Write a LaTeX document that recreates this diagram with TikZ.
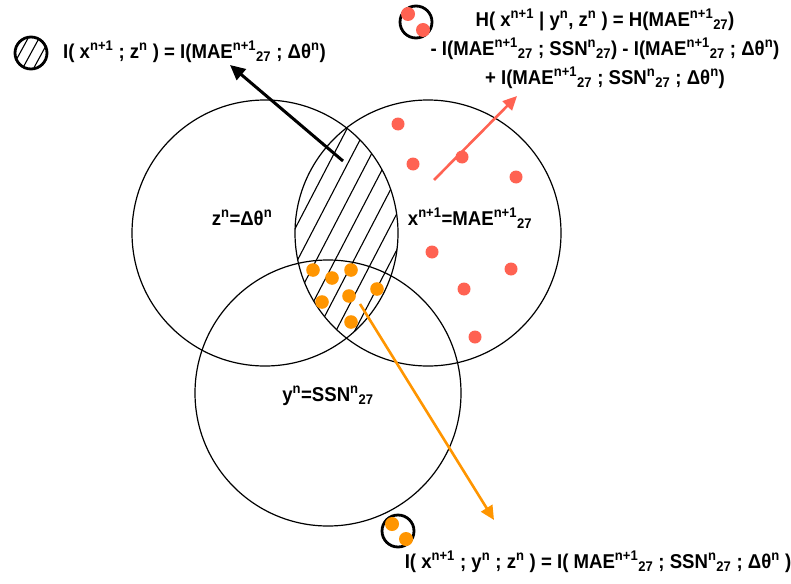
\documentclass[tikz,border=0pt]{standalone}
\usepackage{fontspec}
\setmainfont{Liberation Sans}[FakeStretch=0.93]
\usetikzlibrary{arrows.meta}
\definecolor{dotred}{RGB}{255,98,82}
\definecolor{dotorange}{RGB}{255,149,0}
\newcommand{\sps}[1]{\textsuperscript{#1}}
\newcommand{\sbs}[1]{\textsubscript{#1}}
\newcommand{\mae}{MAE\sps{n+1}\sbs{27}}
\newcommand{\ssn}{SSN\sps{n}\sbs{27}}
\newcommand{\dth}{Δθ\sps{n}}
\tikzset{
  setcircle/.style={circle,draw,line width=1.2pt,minimum size=266pt,inner sep=0pt},
  icon/.style={circle,draw,line width=2.8pt,minimum size=32pt,inner sep=0pt},
  lbl/.style={font=\fontsize{20}{29}\selectfont\bfseries,inner sep=0pt},
  hatch/.style={line width=1.1pt},
  reddot/.style={fill=dotred},
  orangedot/.style={fill=dotorange}
}
\begin{document}
\begin{tikzpicture}[x=1pt,y=-1pt]
\useasboundingbox (0,0) rectangle (791,583);
% the three sets
\node[setcircle] (zset) at (265,233) {};
\node[setcircle] (xset) at (428,233) {};
\node[setcircle] (yset) at (328,393) {};
% hatching of z and x
\begin{scope}
\clip (265,233) circle (133pt);
\clip (428,233) circle (133pt);
\foreach \k in {0,...,6}
  \draw[hatch] ({292.8+18.8*\k-78},383) -- ({292.8+18.8*\k+78},83);
\end{scope}
\node[lbl] (zlbl) at (242,218) {z\sps{n}=\dth};
\node[lbl] (xlbl) at (470,218) {x\sps{n+1}=\mae};
\node[lbl] (ylbl) at (328,396) {y\sps{n}=\ssn};
% dots
\foreach \p in {(398,124),(413,164),(462,157),(516,177),(432,252),(511,269),(464,289),(475,337)}
  \fill[reddot] \p circle (6.5pt);
\foreach \p in {(313,270),(332,278),(351,270),(322,302),(349,296),(377,289),(351,322)}
  \fill[orangedot] \p circle (6.8pt);
% legend top left
\node[icon] (mutinfo) at (31,53) {};
\begin{scope}
\clip (31,53) circle (15pt);
\foreach \o in {-11,0,11}
  \draw[hatch] ({31+\o-12},75) -- ({31+\o+12},31);
\end{scope}
\node[lbl,anchor=west] (mutlbl) at (63,52) {I( x\sps{n+1} ; z\sps{n} ) = I(\mae{} ; \dth)};
% legend top right
\node[icon] (condinfo) at (416,22) {};
\fill[reddot] (408,14) circle (7pt);
\fill[reddot] (423,30) circle (7pt);
\node[lbl,align=center] (condlbl) at (605,49) {H( x\sps{n+1} | y\sps{n}, z\sps{n} ) = H(\mae)\\
 - I(\mae{} ; \ssn) - I(\mae{} ; \dth)\\
 + I(\mae{} ; \ssn{} ; \dth)};
% legend bottom
\node[icon] (triinfo) at (398,531) {};
\fill[orangedot] (392,524) circle (7pt);
\fill[orangedot] (406,539) circle (7pt);
\node[lbl] (trilbl) at (598,562) {I( x\sps{n+1} ; y\sps{n} ; z\sps{n} ) = I( \mae{} ; \ssn{} ; \dth{} )};
% arrows
\coordinate (lensin) at (343,161);
\coordinate (mutend) at (230,65);
\coordinate (xin) at (434,180);
\coordinate (condend) at (517,96);
\coordinate (triin) at (360,304);
\coordinate (triend) at (494,520);
\draw[line width=3pt,-{Triangle[length=15pt,width=14pt]}] (lensin) -- (mutend);
\draw[dotred,line width=2.6pt,-{Triangle[length=14pt,width=13pt]}] (xin) -- (condend);
\draw[dotorange,line width=2.6pt,-{Triangle[length=14pt,width=13pt]}] (triin) -- (triend);
\end{tikzpicture}
\end{document}
